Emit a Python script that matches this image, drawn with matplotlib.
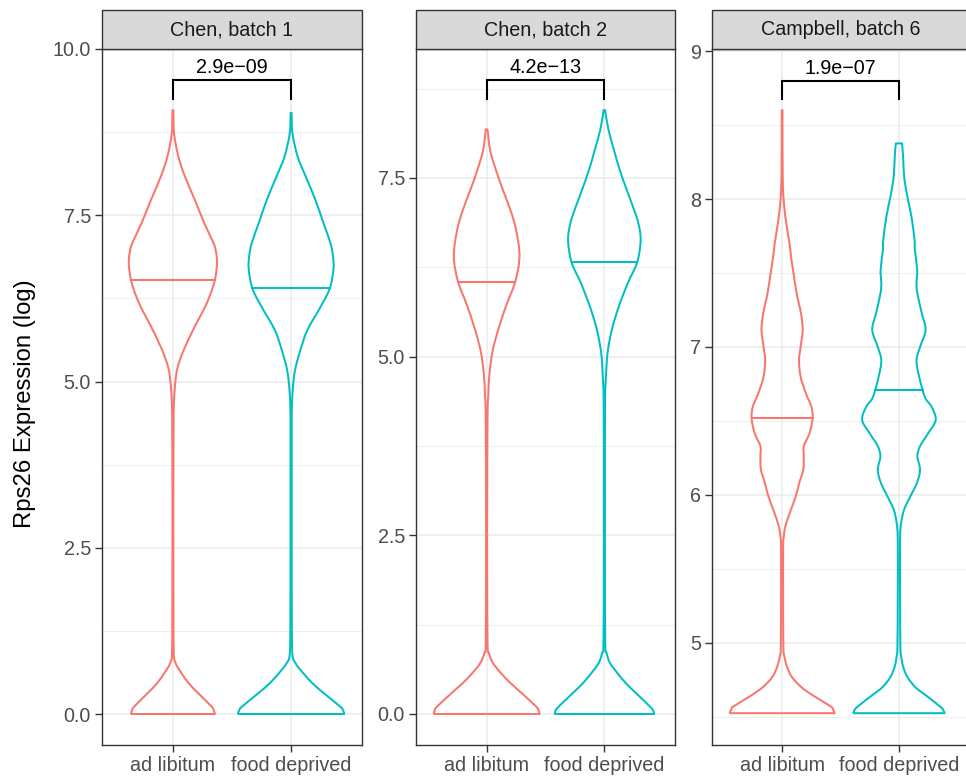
import numpy as np
import matplotlib
matplotlib.use("Agg")
import matplotlib.pyplot as plt
from matplotlib.patches import Rectangle, PathPatch
from matplotlib.path import Path

plt.rcParams['font.family'] = ['Liberation Sans', 'DejaVu Sans']

groups = ["ad libitum", "food deprived"]
panels = ["Chen, batch 1", "Chen, batch 2", "Campbell, batch 6"]
pvalues = ["2.9e\u221209", "4.2e\u221213", "1.9e\u221207"]

# density profiles: log expression vs. relative violin width (0..1)
chen1_ad_y = [0.0, 0.05, 0.11, 0.31, 0.46, 0.61, 0.76, 0.91, 1.5, 2.5, 3.5, 4.3, 4.62, 4.97,
              5.22, 5.52, 5.88, 6.05, 6.28, 6.53, 6.78, 6.95, 7.08, 7.38, 7.73, 8.08, 8.38, 8.73, 9.08]
chen1_ad_w = [0.79, 0.77, 0.73, 0.48, 0.30, 0.165, 0.054, 0.017, 0.011, 0.009, 0.009, 0.013, 0.017, 0.043,
              0.091, 0.228, 0.445, 0.56, 0.69, 0.79, 0.83, 0.81, 0.765, 0.59, 0.413, 0.228, 0.104, 0.022, 0.009]

chen1_fd_y = [0.0, 0.05, 0.11, 0.31, 0.46, 0.61, 0.76, 0.91, 1.5, 2.5, 3.5, 4.3, 4.57, 4.87,
              5.17, 5.47, 5.77, 6.12, 6.40, 6.70, 6.90, 7.08, 7.38, 7.73, 8.08, 8.38, 8.73, 9.04]
chen1_fd_w = [1.0, 0.98, 0.925, 0.62, 0.405, 0.233, 0.087, 0.024, 0.013, 0.011, 0.011, 0.011, 0.013, 0.03,
              0.074, 0.174, 0.304, 0.552, 0.728, 0.798, 0.785, 0.74, 0.61, 0.457, 0.276, 0.124, 0.026, 0.009]

chen2_ad_y = [0.0, 0.05, 0.10, 0.29, 0.43, 0.57, 0.71, 0.85, 0.99, 2.0, 3.0, 4.16, 4.44, 4.77,
              5.09, 5.42, 5.746, 6.05, 6.40, 6.77, 7.05, 7.33, 7.61, 7.89, 8.18]
chen2_ad_w = [1.0, 0.98, 0.94, 0.665, 0.455, 0.272, 0.122, 0.043, 0.017, 0.011, 0.011, 0.017, 0.03, 0.054,
              0.116, 0.236, 0.385, 0.54, 0.62, 0.557, 0.45, 0.308, 0.176, 0.066, 0.017]

chen2_fd_y = [0.0, 0.05, 0.10, 0.29, 0.43, 0.57, 0.71, 0.85, 0.99, 2.0, 3.0, 4.35, 4.72, 5.05,
              5.37, 5.70, 6.03, 6.32, 6.63, 6.866, 7.05, 7.33, 7.61, 7.89, 8.17, 8.45]
chen2_fd_w = [0.94, 0.92, 0.867, 0.60, 0.407, 0.248, 0.109, 0.043, 0.017, 0.011, 0.011, 0.013, 0.03, 0.06,
              0.139, 0.272, 0.443, 0.619, 0.685, 0.642, 0.563, 0.424, 0.291, 0.182, 0.079, 0.013]

camp_ad_y = [4.525, 4.55, 4.57, 4.64, 4.70, 4.77, 4.84, 4.91, 4.975, 5.3, 5.65, 5.72, 5.786, 5.876,
             5.99, 6.08, 6.17, 6.26, 6.33, 6.417, 6.518, 6.597, 6.687, 6.80, 6.91, 7.00, 7.115,
             7.228, 7.36, 7.50, 7.60, 7.70, 7.836, 7.99, 8.17, 8.60]
camp_ad_w = [1.0, 0.967, 0.928, 0.609, 0.37, 0.185, 0.093, 0.043, 0.024, 0.02, 0.02, 0.033, 0.061, 0.143,
             0.26, 0.326, 0.402, 0.413, 0.413, 0.522, 0.58, 0.557, 0.452, 0.352, 0.322, 0.352, 0.391,
             0.359, 0.278, 0.217, 0.174, 0.141, 0.08, 0.03, 0.011, 0.007]

camp_fd_y = [4.525, 4.55, 4.57, 4.64, 4.70, 4.77, 4.84, 4.91, 4.975, 5.3, 5.7, 5.81, 5.90, 5.99,
             6.08, 6.17, 6.26, 6.33, 6.417, 6.507, 6.597, 6.66, 6.80, 6.91, 7.00, 7.115, 7.228,
             7.36, 7.43, 7.52, 7.657, 7.72, 7.88, 8.016, 8.15, 8.286, 8.376]
camp_fd_w = [0.87, 0.837, 0.783, 0.533, 0.315, 0.161, 0.08, 0.043, 0.028, 0.022, 0.022, 0.043, 0.098, 0.217,
             0.341, 0.402, 0.352, 0.402, 0.557, 0.70, 0.62, 0.496, 0.385, 0.335, 0.402, 0.507, 0.435,
             0.352, 0.335, 0.348, 0.304, 0.298, 0.239, 0.161, 0.1, 0.08, 0.059]

medians = [[6.52, 6.41], [6.05, 6.32], [6.52, 6.71]]

profiles = [
    [(chen1_ad_y, chen1_ad_w), (chen1_fd_y, chen1_fd_w)],
    [(chen2_ad_y, chen2_ad_w), (chen2_fd_y, chen2_fd_w)],
    [(camp_ad_y, camp_ad_w), (camp_fd_y, camp_fd_w)],
]

# bracket height and tip height per panel
bracket_y = [9.53, 8.87, 8.80]
bracket_tip = [9.25, 8.605, 8.676]

ylims = [(-0.466, 10.0), (-0.434, 9.305), (4.31, 9.014)]
yticks = [[0.0, 2.5, 5.0, 7.5, 10.0], [0.0, 2.5, 5.0, 7.5], [5, 6, 7, 8, 9]]
yminor = [[1.25, 3.75, 6.25, 8.75], [1.25, 3.75, 6.25, 8.75], [4.5, 5.5, 6.5, 7.5, 8.5]]
ylabelfmt = ["{:.1f}", "{:.1f}", "{:.0f}"]

colors = ["#F8766D", "#00BFC4"]
W, H = 966, 777
panel_left = [102, 416, 712]
panel_width = [260, 259, 257]
panel_top, panel_bottom = 49, 745
strip_h = 39


def smoothSide(xs, ys):
    # cubic bezier segments through the profile points (catmull-rom tangents)
    p = np.column_stack([xs, ys])
    ext = np.vstack([p[0], p, p[-1]])
    verts = [tuple(p[0])]
    codes = [Path.MOVETO]
    for k in range(len(p) - 1):
        p0, p1, p2, p3 = ext[k], ext[k + 1], ext[k + 2], ext[k + 3]
        c1 = p1 + (p2 - p0) / 6.0
        c2 = p2 - (p3 - p1) / 6.0
        verts += [tuple(c1), tuple(c2), tuple(p2)]
        codes += [Path.CURVE4] * 3
    return verts, codes


def drawViolin(ax, pos, ys, ws, median, color):
    ys = np.asarray(ys, dtype=float)
    half = 0.45 * np.asarray(ws, dtype=float)
    lv, lc = smoothSide(pos - half, ys)
    rv, rc = smoothSide((pos + half)[::-1], ys[::-1])
    verts = lv + rv + [lv[0]]
    codes = lc + [Path.LINETO] + rc[1:] + [Path.LINETO]
    patch = PathPatch(Path(verts, codes), facecolor="none", edgecolor=color, lw=1.45,
                      joinstyle='round', zorder=3)
    ax.add_patch(patch)
    mh = np.interp(median, ys, half)
    ax.plot([pos - mh, pos + mh], [median, median], color=color, lw=1.45, zorder=3)


def main():
    fig = plt.figure(figsize=(W / 100, H / 100), dpi=100)
    fig.patch.set_facecolor("white")

    for i, name in enumerate(panels):
        l = panel_left[i] / W
        b = (H - panel_bottom) / H
        ax = fig.add_axes([l, b, panel_width[i] / W, (panel_bottom - panel_top) / H])
        ax.set_xlim(0.4, 2.6)
        ax.set_ylim(*ylims[i])

        for y in yminor[i]:
            ax.axhline(y, color="#EBEBEB", lw=0.6, zorder=1)
        for y in yticks[i]:
            ax.axhline(y, color="#EBEBEB", lw=1.1, zorder=1)
        for x in (1, 2):
            ax.axvline(x, color="#EBEBEB", lw=1.1, zorder=1)

        for j in range(2):
            ys, ws = profiles[i][j]
            drawViolin(ax, j + 1, ys, ws, medians[i][j], colors[j])

        # significance bracket
        ax.plot([1, 1, 2, 2], [bracket_tip[i], bracket_y[i], bracket_y[i], bracket_tip[i]],
                color="black", lw=1.5, zorder=4, solid_joinstyle='miter')
        ax.annotate(pvalues[i], xy=(1.5, bracket_y[i]), xytext=(0, 2), textcoords="offset points",
                    ha="center", va="bottom", fontsize=14.2, color="black")

        ax.set_xticks([1, 2])
        ax.set_xticklabels(groups)
        ax.set_yticks(yticks[i])
        ax.set_yticklabels([ylabelfmt[i].format(v) for v in yticks[i]])
        ax.tick_params(axis="both", length=5, width=1.0, color="#333333",
                       labelsize=14.2, labelcolor="#4D4D4D", pad=3)
        for s in ax.spines.values():
            s.set_color("#333333")
            s.set_linewidth(1.0)
            s.set_zorder(5)

        # facet strip
        sh = strip_h / (panel_bottom - panel_top)
        ax.add_patch(Rectangle((0, 1), 1, sh, transform=ax.transAxes, clip_on=False,
                               facecolor="#D9D9D9", edgecolor="#333333", lw=1.0, zorder=6))
        ax.text(0.5, 1 + sh / 2, name, transform=ax.transAxes, ha="center", va="center",
                fontsize=14.2, color="#1A1A1A", zorder=7)

    fig.text(25 / W, 1 - 404 / H, "Rps26 Expression (log)",
             rotation=90, ha="center", va="center", fontsize=17.2, color="black")

    fig.savefig("out.png", dpi=100)
    plt.close(fig)


if __name__ == "__main__":
    main()
